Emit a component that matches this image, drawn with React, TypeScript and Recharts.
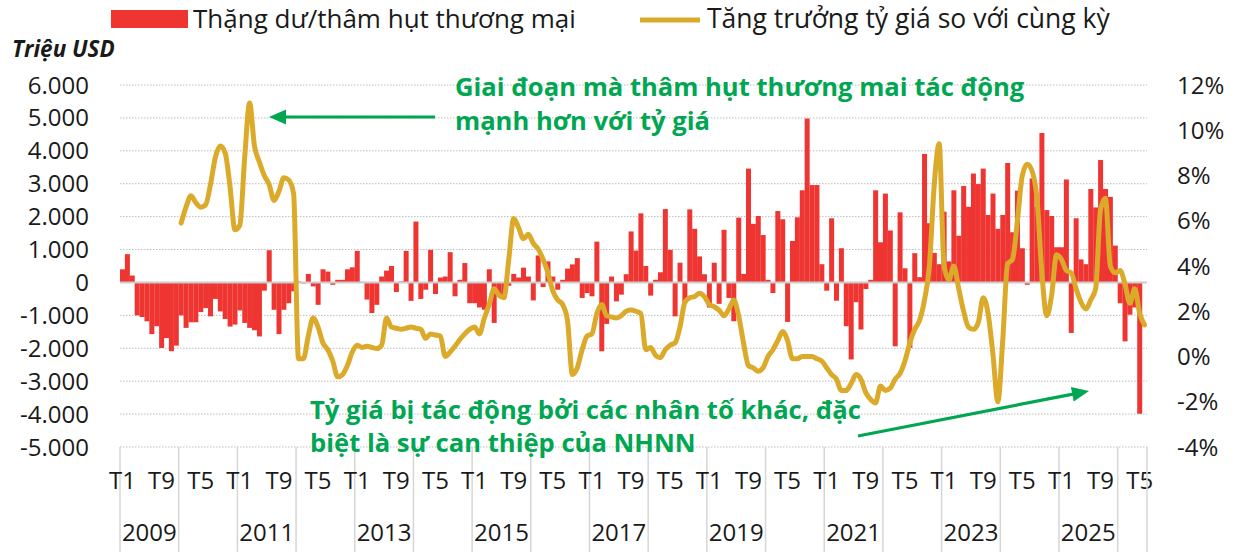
import { Bar, CartesianGrid, ComposedChart, Line, ReferenceLine, XAxis, YAxis } from 'recharts'

const W = 1242
const H = 552
const FONT = "'Open Sans', 'Noto Sans', sans-serif"
const RED = '#ee3531'
const GOLD = '#dcaa2a'
const GREEN = '#00a651'
const INK = '#1a1a1a'

// Monthly, T1/2009 → T6/2026
const startYear = 2009
const monthCount = 210
const categories = Array.from(
  { length: monthCount },
  (_, i) => `T${(i % 12) + 1}/${startYear + Math.floor(i / 12)}`,
)

// Trade surplus / deficit, million USD (one row per year)
const tradeBalance = [
  400, 860, 210, -1000, -1050, -1180, -1570, -1330, -1990, -1690, -2090, -1920,
  -1000, -1380, -1210, -1210, -900, -780, -1030, -500, -880, -1110, -1340, -1280,
  -850, -1230, -1380, -1450, -1640, -250, 980, -830, -1570, -830, -630, -270,
  30, -30, 260, -120, -680, 400, 330, -70, 80, 80, 400, 460,
  960, 20, -520, -930, -680, 180, 360, 500, -290, 30, 960, -560,
  1850, -500, -220, 990, -350, 150, 180, 920, -420, 80, 590, -630,
  -630, -760, -830, 400, -1230, -420, -470, -100, 260, 150, 450, 180,
  -545, 820, -140, 640, 180, -220, 80, 420, 550, 740, -470, -320,
  -420, 1240, -2090, -1260, 180, -575, -370, 250, 1550, 970, 2100, 500,
  -400, 80, 310, 2230, 990, -1030, 600, -630, 2220, 1630, 790, 250,
  -760, 600, -650, 1600, -470, -1180, 1970, 260, 3460, 1780, 2020, 1440,
  80, -320, 2170, 1920, -1200, 1260, 1980, 2800, 4980, 2960, 2960, 555,
  -250, 1950, -555, 1040, -1330, -2340, -600, -1430, -200, 80, 2800, 1220,
  2700, 1580, -1940, 2130, 430, -1990, 890, 160, 3900, 1800, 900, 555,
  2150, 640, 2800, 1420, 2930, 2300, 3310, 2990, 3460, 2050, 2700, 1630,
  2050, 3630, 1525, 2790, 1040, -70, 3160, 2300, 4540, 2200, 2020, 1070,
  1070, 3130, -1535, 1950, 700, 555, 2840, 2280, 3720, 2840, 2600, 1120,
  -630, -1790, -980, -760, -3990, null,
]

// Exchange-rate growth vs same period last year, %
const fxGrowth = [
  null, null, null, null, null, null, null, null, null, null, null, null,
  5.9, 6.6, 7.1, 6.8, 6.6, 6.7, 7.6, 8.8, 9.3, 9.0, 7.5, 5.6,
  5.8, 8.8, 11.2, 9.3, 8.6, 8.0, 7.6, 6.9, 7.3, 7.9, 7.8, 7.2,
  -0.1, -0.1, 0.9, 1.7, 1.3, 0.6, 0.3, -0.2, -0.9, -0.8, -0.4, 0.2,
  0.5, 0.4, 0.45, 0.4, 0.35, 0.5, 1.7, 1.3, 1.25, 1.2, 1.25, 1.3,
  1.25, 1.2, 0.8, 1.0, 0.95, 0.9, 0.0, 0.2, 0.45, 0.75, 1.0, 1.2,
  1.3, 1.0, 1.7, 2.3, 3.0, 2.7, 2.6, 4.3, 6.1, 5.7, 5.2, 5.4,
  5.0, 4.75, 4.3, 3.7, 2.9, 2.5, 2.3, 1.6, -0.8, -0.5, 0.3, 0.9,
  1.0, 1.9, 2.3, 1.8, 1.75, 1.7, 1.8, 2.0, 2.05, 2.0, 1.9, 0.3,
  0.4, 0.05, -0.05, 0.3, 0.5, 0.6, 1.3, 2.4, 2.6, 2.65, 2.8, 2.65,
  2.3, 2.2, 2.05, 1.8, 2.1, 2.5, 1.8, 0.6, -0.4, -0.5, -0.65, -0.5,
  0.0, 0.3, 0.7, 1.1, 0.7, -0.1, -0.1, 0.0, 0.0, 0.0, -0.1, -0.2,
  -0.5, -0.8, -1.0, -1.5, -1.5, -1.2, -0.8, -1.0, -1.6, -1.9, -2.05, -1.3,
  -1.5, -1.4, -1.0, -0.75, -0.2, 0.6, 1.2, 1.6, 2.5, 4.0, 7.6, 9.4,
  4.0, 3.4, 4.0, 3.0, 2.0, 1.3, 1.2, 1.5, 2.6, 1.9, 0.1, -2.0,
  0.7, 4.1, 4.3, 6.0, 8.0, 8.5, 8.2, 7.0, 3.7, 1.8, 2.7, 4.5,
  4.3, 3.8, 3.7, 3.0, 2.4, 2.1, 2.5, 3.0, 6.5, 7.0, 4.0, 3.7,
  3.8, 3.2, 2.35, 3.0, 1.9, 1.4,
]

const leftTicks = [-5000, -4000, -3000, -2000, -1000, 0, 1000, 2000, 3000, 4000, 5000, 6000]
const rightTicks = [-4, -2, 0, 2, 4, 6, 8, 10, 12]
const monthLabelStep = 8
const yearLabels = ['2009', '2011', '2013', '2015', '2017', '2019', '2021', '2023', '2025']

const data = categories.map((period, i) => ({ period, trade: tradeBalance[i], fx: fxGrowth[i] }))
const indexOf = new Map(categories.map((c, i) => [c, i]))

function fmtThousands(v: number) {
  if (v === 0) return '0'
  const a = Math.abs(v)
  const s = a >= 1000 ? `${Math.floor(a / 1000)}.${String(a % 1000).padStart(3, '0')}` : String(a)
  return (v < 0 ? '-' : '') + s
}

/** Month tick every 8 months, year label in the middle of odd years, separator at each January. */
function MonthTick(props: any) {
  const { x, y, payload } = props
  const i = indexOf.get(payload.value) ?? 0
  const [m, yr] = String(payload.value).slice(1).split('/')
  const half = payload.offset ?? 2.45
  const sep = { stroke: '#d6d6d6', strokeWidth: 1.5 }
  return (
    <g>
      {m === '1' && <line x1={x - half} x2={x - half} y1={y} y2={H} {...sep} />}
      {i === monthCount - 1 && <line x1={x + half} x2={x + half} y1={y} y2={H} {...sep} />}
      {i % monthLabelStep === 0 && (
        <text x={x} y={y + 42} textAnchor="middle" fontSize={24} fill={INK} fontFamily={FONT}>
          {`T${m}`}
        </text>
      )}
      {m === '7' && yearLabels.includes(yr) && (
        <text x={x - half} y={y + 94} textAnchor="middle" fontSize={24} fill={INK} fontFamily={FONT}>
          {yr}
        </text>
      )}
    </g>
  )
}

function Arrow({ x1, y1, x2, y2 }: { x1: number; y1: number; x2: number; y2: number }) {
  const len = Math.hypot(x2 - x1, y2 - y1)
  const ux = (x2 - x1) / len
  const uy = (y2 - y1) / len
  const hl = 17
  const hw = 7.5
  const bx = x2 - ux * hl
  const by = y2 - uy * hl
  return (
    <g>
      <line x1={x1} y1={y1} x2={bx + ux * 2} y2={by + uy * 2} stroke={GREEN} strokeWidth={3.2} />
      <polygon
        points={`${x2},${y2} ${bx - uy * hw},${by + ux * hw} ${bx + uy * hw},${by - ux * hw}`}
        fill={GREEN}
      />
    </g>
  )
}

export default function App() {
  const tick = { fontSize: 24, fill: INK, fontFamily: FONT }
  return (
    <div style={{ position: 'absolute', left: 0, top: 0, width: W, height: H, background: '#fff' }}>
      <ComposedChart
        width={W}
        height={H}
        data={data}
        margin={{ top: 85, right: 0, bottom: 0, left: 0 }}
        barCategoryGap={0}
        barGap={0}
      >
        <CartesianGrid yAxisId="left" vertical={false} stroke="#bdbdbd" strokeDasharray="1.5 1.5" />
        <XAxis
          dataKey="period"
          interval={0}
          height={105}
          axisLine={false}
          tickLine={false}
          tickSize={0}
          tickMargin={0}
          tick={<MonthTick />}
        />
        <YAxis
          yAxisId="left"
          width={120}
          domain={[-5000, 6000]}
          ticks={leftTicks}
          interval={0}
          tickFormatter={fmtThousands}
          axisLine={false}
          tickLine={false}
          tickSize={0}
          tickMargin={31}
          tick={tick}
        />
        <YAxis
          yAxisId="right"
          orientation="right"
          width={95}
          domain={[-4, 12]}
          ticks={rightTicks}
          interval={0}
          tickFormatter={(v: number) => `${v}%`}
          axisLine={false}
          tickLine={false}
          tickSize={0}
          tickMargin={30}
          tick={tick}
        />
        <ReferenceLine yAxisId="left" y={0} stroke="#cccccc" strokeWidth={2} />
        <Bar yAxisId="left" dataKey="trade" fill={RED} isAnimationActive={false} />
        <Line
          yAxisId="right"
          dataKey="fx"
          type="monotone"
          stroke={GOLD}
          strokeWidth={5}
          strokeLinecap="round"
          strokeLinejoin="round"
          dot={false}
          activeDot={false}
          connectNulls={false}
          isAnimationActive={false}
        />
      </ComposedChart>

      <svg
        width={W}
        height={H}
        style={{ position: 'absolute', left: 0, top: 0, pointerEvents: 'none' }}
        fontFamily={FONT}
      >
        {/* legend */}
        <rect x={111} y={10} width={77} height={18} fill={RED} />
        <text x={193} y={28} fontSize={26} fill={INK}>Thặng dư/thâm hụt thương mại</text>
        <line x1={640} x2={700} y1={20} y2={20} stroke={GOLD} strokeWidth={5} />
        <text x={707} y={28} fontSize={26.5} fill={INK}>Tăng trưởng tỷ giá so với cùng kỳ</text>

        <text x={12} y={57} fontSize={22.5} fontWeight={700} fontStyle="italic" fill={INK}>Triệu USD</text>

        {/* annotations */}
        <text x={455} y={96} fontSize={25.6} fontWeight={700} fill={GREEN}>
          Giai đoạn mà thâm hụt thương mai tác động
        </text>
        <text x={455} y={130} fontSize={25.6} fontWeight={700} fill={GREEN}>mạnh hơn với tỷ giá</text>
        <Arrow x1={435} y1={117} x2={269} y2={117} />

        <text x={310} y={419} fontSize={25.6} fontWeight={700} fill={GREEN}>
          Tỷ giá bị tác động bởi các nhân tố khác, đặc
        </text>
        <text x={310} y={452} fontSize={25.6} fontWeight={700} fill={GREEN}>biệt là sự can thiệp của NHNN</text>
        <Arrow x1={858} y1={436} x2={1089} y2={391} />
      </svg>
    </div>
  )
}
